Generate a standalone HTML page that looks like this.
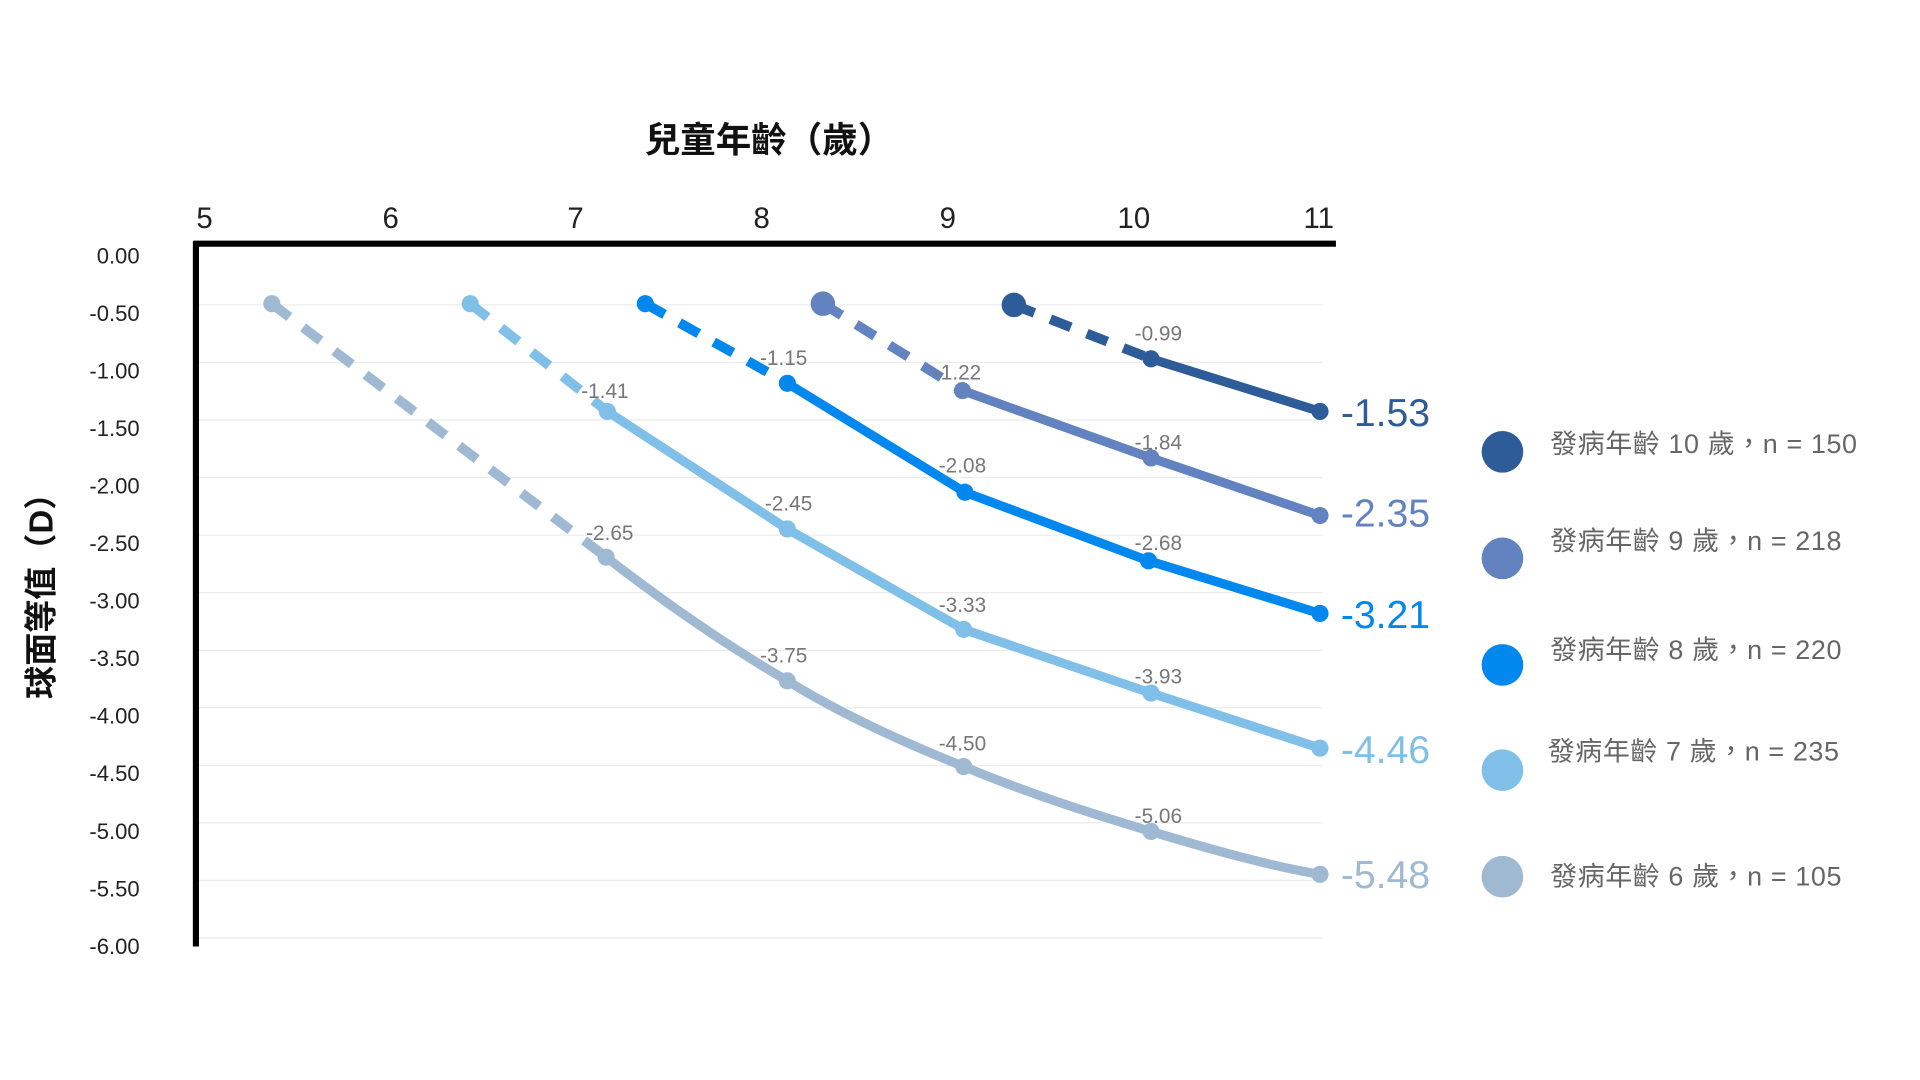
<!DOCTYPE html>
<html><head><meta charset="utf-8"><style>html,body{margin:0;padding:0;background:#fff}svg{display:block}</style></head>
<body>
<svg width="1920" height="1080" viewBox="0 0 1568 882" preserveAspectRatio="none" xmlns="http://www.w3.org/2000/svg" font-family="Liberation Sans, Noto Sans CJK TC, sans-serif">
<rect width="1568" height="882" fill="#fff"/>
<g stroke="#ececec" stroke-width="1">
<line x1="160" x2="1080" y1="249" y2="249"/><line x1="160" x2="1080" y1="296" y2="296"/><line x1="160" x2="1080" y1="343" y2="343"/><line x1="160" x2="1080" y1="390" y2="390"/><line x1="160" x2="1080" y1="437" y2="437"/><line x1="160" x2="1080" y1="484" y2="484"/><line x1="160" x2="1080" y1="531" y2="531"/><line x1="160" x2="1080" y1="578" y2="578"/><line x1="160" x2="1080" y1="625" y2="625"/><line x1="160" x2="1080" y1="672" y2="672"/><line x1="160" x2="1080" y1="719" y2="719"/><line x1="160" x2="1080" y1="766" y2="766"/>
</g>
<line x1="158" y1="199" x2="1091" y2="199" stroke="#000" stroke-width="5"/>
<line x1="160" y1="197" x2="160" y2="773" stroke="#000" stroke-width="5"/>
<text x="628" y="124" text-anchor="middle" font-size="29" font-weight="bold" fill="#111">兒童年齡（歲）</text>
<text transform="translate(43,480) rotate(-90)" text-anchor="middle" font-size="27" font-weight="bold" fill="#111">球面等值（D）</text>
<g font-size="24" fill="#222" text-anchor="middle">
<text x="167" y="186">5</text><text x="319" y="186">6</text><text x="470" y="186">7</text><text x="622" y="186">8</text><text x="774" y="186">9</text><text x="926" y="186">10</text><text x="1077" y="186">11</text>
</g>
<g font-size="18" fill="#222" text-anchor="end">
<text x="114" y="215">0.00</text><text x="114" y="262">-0.50</text><text x="114" y="309">-1.00</text><text x="114" y="356">-1.50</text><text x="114" y="403">-2.00</text><text x="114" y="450">-2.50</text><text x="114" y="497">-3.00</text><text x="114" y="544">-3.50</text><text x="114" y="591">-4.00</text><text x="114" y="638">-4.50</text><text x="114" y="685">-5.00</text><text x="114" y="732">-5.50</text><text x="114" y="779">-6.00</text>
</g>
<g fill="none" stroke-width="8" stroke-dasharray="18 14" stroke-linecap="butt">
<line x1="828" y1="249" x2="940" y2="293" stroke="#2E5C99"/>
<line x1="672" y1="248" x2="786" y2="319" stroke="#6282C0"/>
<line x1="527" y1="248" x2="643" y2="313" stroke="#0088EE"/>
<line x1="384" y1="248" x2="496" y2="336" stroke="#7FBFE8"/>
<line x1="222" y1="248" x2="495" y2="455" stroke="#A0B9D3"/>
</g>
<g fill="none" stroke-width="7.5" stroke-linejoin="round">
<polyline points="940,293 1078,336" stroke="#2E5C99"/>
<polyline points="786,319 940,374 1078,421" stroke="#6282C0"/>
<polyline points="643,313 788,402 938,458 1078,501" stroke="#0088EE"/>
<polyline points="496,336 643,432 787,514 940,566 1078,611" stroke="#7FBFE8"/>
<path d="M495,455 C540,490 590,525 643,556 C690,585 740,607 787,626 C840,648 890,664 940,679 C990,694 1040,708 1078,714" stroke="#A0B9D3"/>
</g>
<g fill="#2E5C99"><circle cx="828" cy="249" r="10"/><circle cx="940" cy="293" r="7"/><circle cx="1078" cy="336" r="7"/></g>
<g fill="#6282C0"><circle cx="672" cy="248" r="10"/><circle cx="786" cy="319" r="7"/><circle cx="940" cy="374" r="7"/><circle cx="1078" cy="421" r="7"/></g>
<g fill="#0088EE"><circle cx="527" cy="248" r="7"/><circle cx="643" cy="313" r="7"/><circle cx="788" cy="402" r="7"/><circle cx="938" cy="458" r="7"/><circle cx="1078" cy="501" r="7"/></g>
<g fill="#7FBFE8"><circle cx="384" cy="248" r="7"/><circle cx="496" cy="336" r="7"/><circle cx="643" cy="432" r="7"/><circle cx="787" cy="514" r="7"/><circle cx="940" cy="566" r="7"/><circle cx="1078" cy="611" r="7"/></g>
<g fill="#A0B9D3"><circle cx="222" cy="248" r="7"/><circle cx="495" cy="455" r="7"/><circle cx="643" cy="556" r="7"/><circle cx="787" cy="626" r="7"/><circle cx="940" cy="679" r="7"/><circle cx="1078" cy="714" r="7"/></g>
<g font-size="17" fill="#777" text-anchor="middle">
<text x="946" y="278">-0.99</text>
<text x="782" y="310">-1.22</text><text x="946" y="367">-1.84</text>
<text x="640" y="298">-1.15</text><text x="786" y="386">-2.08</text><text x="946" y="449">-2.68</text>
<text x="494" y="325">-1.41</text><text x="644" y="417">-2.45</text><text x="786" y="500">-3.33</text><text x="946" y="558">-3.93</text>
<text x="498" y="441">-2.65</text><text x="640" y="541">-3.75</text><text x="786" y="613">-4.50</text><text x="946" y="672">-5.06</text>
</g>
<g font-size="32">
<text x="1095" y="348" fill="#2E5C99">-1.53</text>
<text x="1095" y="430" fill="#6282C0">-2.35</text>
<text x="1095" y="513" fill="#0088EE">-3.21</text>
<text x="1095" y="623" fill="#7FBFE8">-4.46</text>
<text x="1095" y="725" fill="#A0B9D3">-5.48</text>
</g>
<circle cx="1227" cy="369" r="17" fill="#2E5C99"/>
<circle cx="1227" cy="456" r="17" fill="#6282C0"/>
<circle cx="1227" cy="543" r="17" fill="#0088EE"/>
<circle cx="1227" cy="629" r="17" fill="#7FBFE8"/>
<circle cx="1227" cy="716" r="17" fill="#A0B9D3"/>
<g font-size="22" fill="#666" letter-spacing="0.5">
<text x="1266" y="370">發病年齡 10 歲，n = 150</text>
<text x="1266" y="449">發病年齡 9 歲，n = 218</text>
<text x="1266" y="538">發病年齡 8 歲，n = 220</text>
<text x="1264" y="621">發病年齡 7 歲，n = 235</text>
<text x="1266" y="723">發病年齡 6 歲，n = 105</text>
</g>
</svg>
</body></html>
